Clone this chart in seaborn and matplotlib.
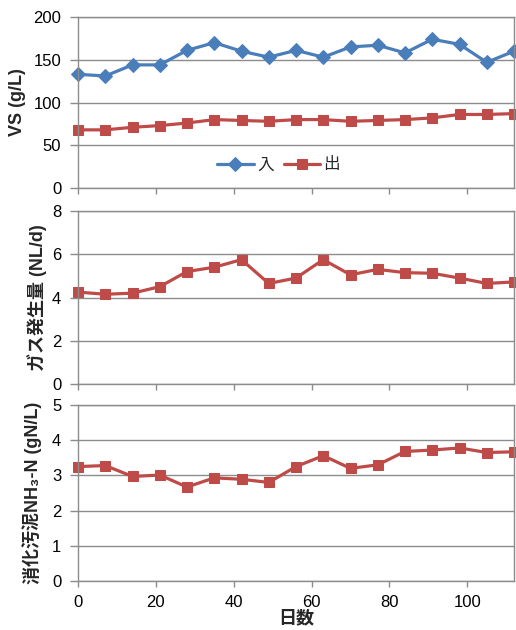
import matplotlib
matplotlib.use("Agg")
import matplotlib.pyplot as plt
import seaborn as sns
import pandas as pd

# ---- data ----
days = [0, 7, 14, 21, 28, 35, 42, 49, 56, 63, 70, 77, 84, 91, 98, 105, 112]
vs_in = [133, 131, 144, 144, 161, 170, 160, 153, 161, 153, 165, 167, 158, 174, 168, 147, 160]
vs_out = [68, 68, 71, 73, 76, 80, 79, 78, 80, 80, 78, 79, 80, 82, 86, 86, 87]
gas = [4.25, 4.15, 4.2, 4.5, 5.2, 5.4, 5.75, 4.65, 4.9, 5.75, 5.05, 5.3, 5.15, 5.12, 4.9, 4.65, 4.72]
nh3 = [3.25, 3.28, 2.97, 3.01, 2.67, 2.93, 2.89, 2.8, 3.25, 3.56, 3.2, 3.3, 3.68, 3.72, 3.78, 3.65, 3.67]

x_ticks = [0, 20, 40, 60, 80, 100]

sns.set_theme(style="white")
plt.rcParams['font.family'] = ['Liberation Sans', 'Noto Sans CJK JP', 'DejaVu Sans']

BLUE = '#4a7ebb'
RED = '#be4b48'
GRID = '#8c8c8c'

W, H = 516, 630
fig = plt.figure(figsize=(W / 100, H / 100), dpi=100)

def make_ax(top, bottom):
    ax = fig.add_axes([78 / W, (H - bottom) / H, 436 / W, (bottom - top) / H])
    for s in ax.spines.values():
        s.set_color(GRID)
        s.set_linewidth(1)
    ax.grid(axis='y', color=GRID, linewidth=1)
    ax.set_axisbelow(True)
    ax.set_xlim(0, 112)
    ax.set_xticks(x_ticks)
    ax.tick_params(axis='both', direction='out', width=1, color=GRID,
                   labelsize=12, bottom=True, left=True, labelcolor='black')
    ax.tick_params(axis='y', length=6, pad=6)
    ax.tick_params(axis='x', length=4, pad=6)
    return ax

def ylab(ax, text, xr):
    ax.set_ylabel(text, fontsize=13, fontweight='bold')
    ax.yaxis.set_label_coords(xr, 0.5)

# ---- panel 1: VS ----
ax1 = make_ax(17, 188)
df1 = pd.DataFrame({'day': days, 'in': vs_in, 'out': vs_out})
sns.lineplot(data=df1, x='day', y='in', ax=ax1, color=BLUE, lw=2.3, marker='D',
             markersize=7, markeredgecolor=BLUE, label='入', clip_on=False)
sns.lineplot(data=df1, x='day', y='out', ax=ax1, color=RED, lw=2.3, marker='s',
             markersize=7, markeredgecolor=RED, label='出', clip_on=False)
ax1.set_ylim(0, 200)
ax1.set_yticks([0, 50, 100, 150, 200])
ax1.set_xticklabels([])
ax1.set_xlabel('')
ylab(ax1, 'VS (g/L)', -0.119)
ax1.legend(loc='center', bbox_to_anchor=(0.46, 0.135), ncol=2, frameon=False,
           prop={'size': 12}, handlelength=2.2, columnspacing=0.6,
           handletextpad=0.2)

# ---- panel 2: gas ----
ax2 = make_ax(211, 384)
df2 = pd.DataFrame({'day': days, 'gas': gas})
sns.lineplot(data=df2, x='day', y='gas', ax=ax2, color=RED, lw=2.3, marker='s',
             markersize=7, markeredgecolor=RED, clip_on=False)
ax2.set_ylim(0, 8)
ax2.set_yticks([0, 2, 4, 6, 8])
ax2.set_xticklabels([])
ax2.set_xlabel('')
ylab(ax2, 'ガス発生量 (NL/d)', -0.071)

# ---- panel 3: NH3-N ----
ax3 = make_ax(405, 581)
df3 = pd.DataFrame({'day': days, 'nh3': nh3})
sns.lineplot(data=df3, x='day', y='nh3', ax=ax3, color=RED, lw=2.3, marker='s',
             markersize=7, markeredgecolor=RED, clip_on=False)
ax3.set_ylim(0, 5)
ax3.set_yticks([0, 1, 2, 3, 4, 5])
ax3.set_xlabel('日数', fontsize=13, fontweight='bold', labelpad=0)
ylab(ax3, '消化汚泥NH₃-N (gN/L)', -0.083)

fig.savefig('out.png', dpi=100)
